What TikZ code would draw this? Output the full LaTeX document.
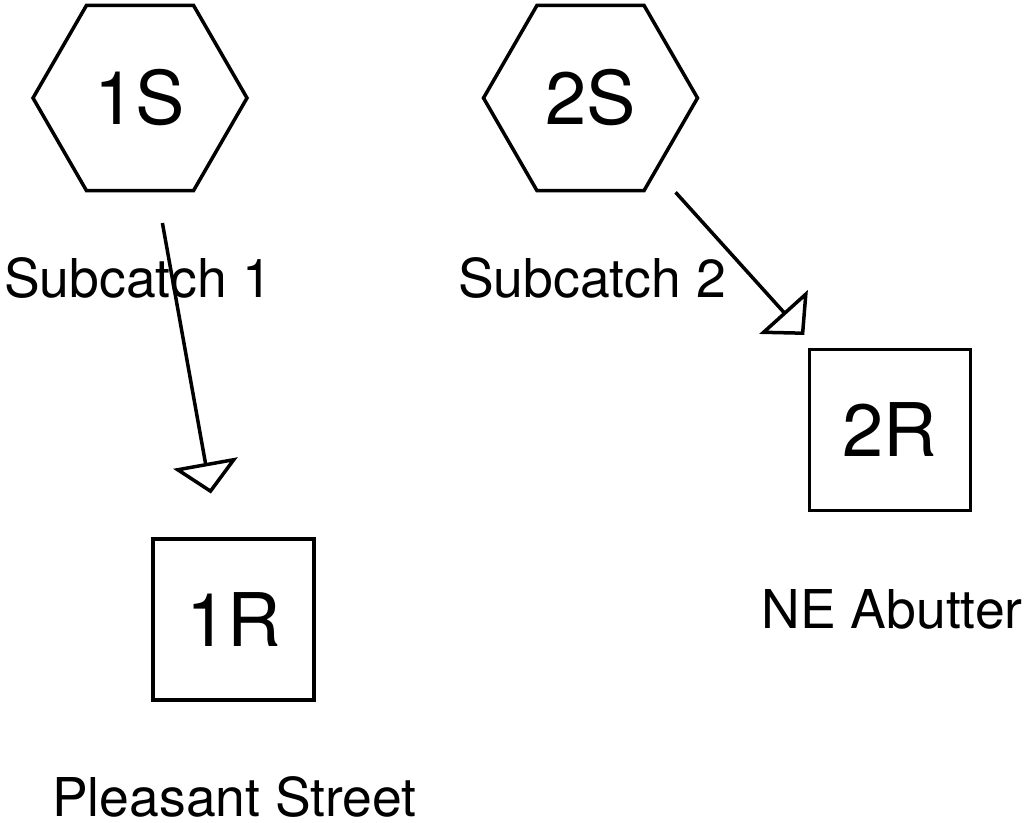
\documentclass[tikz,border=0pt]{standalone}
\usepackage{fontspec}
\setmainfont{TeX Gyre Heros}
\usetikzlibrary{shapes.geometric,arrows.meta}
\begin{document}
\begin{tikzpicture}[x=1pt,y=-1pt,
  hexnode/.style={draw,line width=3.5pt,regular polygon,regular polygon sides=6,minimum size=214pt,inner sep=0pt,outer sep=0pt,font=\fontsize{74}{80}\selectfont},
  sqnode/.style={draw,line width=3.5pt,rectangle,minimum size=161pt,inner sep=0pt,outer sep=0pt,font=\fontsize{74}{80}\selectfont},
  lbl/.style={anchor=base,inner sep=0pt,font=\fontsize{53.5}{60}\selectfont},
  flow/.style={line width=3.5pt,-{Triangle[open,length=31pt,width=65pt,line width=3.5pt]},shorten <=127pt,shorten >=128pt}]
\useasboundingbox (0,0) rectangle (1024,822);
\node[hexnode] (s1) at (140,98) {1S};
\node[hexnode] (s2) at (590.5,98) {2S};
\node[sqnode] (r1) at (233.5,619.5) {1R};
\node[sqnode] (r2) at (890,430) {2R};
\node[lbl] (l1) at (138,297) {Subcatch 1};
\node[lbl] (l2) at (592,297) {Subcatch 2};
\node[lbl] (l3) at (892,628) {NE Abutter};
\node[lbl] (l4) at (234.5,816) {Pleasant Street};
\draw[flow] (s1.center) -- (r1.center);
\draw[flow] (s2.center) -- (r2.center);
\end{tikzpicture}
\end{document}
